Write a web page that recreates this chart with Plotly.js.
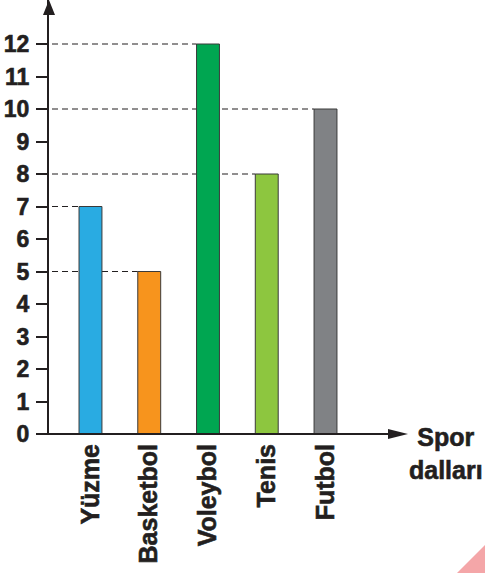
<!DOCTYPE html>
<html>
<head>
<meta charset="utf-8">
<script src="https://cdn.plot.ly/plotly-3.0.1.min.js"></script>
<style>
html,body{margin:0;padding:0;background:#fff;}
#chart{width:485px;height:573px;}
#chart .xtick text, #chart .ytick text, #chart .annotation-text{stroke:#231f20;stroke-width:0.6px;}
</style>
</head>
<body>
<div id="chart"></div>
<script>
const categories = ["Yüzme", "Basketbol", "Voleybol", "Tenis", "Futbol"];
const values = [7, 5, 12, 8, 10];
const colors = ["#29abe2", "#f7941d", "#00a651", "#8dc63f", "#808285"];
const yTicks = [0,1,2,3,4,5,6,7,8,9,10,11,12];
const xTitle = "Spor<br>dalları";

const W = 485, H = 573;
const mL = 49, mR = 77, mT = 0, mB = 139;
const plotW = W - mL - mR, plotH = H - mT - mB;
const xRange = [-0.706, 5.404];
const yRange = [0, 13.354];
const barWidth = 0.39;
const ink = "#231f20";
const idx = categories.map((c, i) => i);

// helpers to convert pixel positions to paper coords (decorations only)
const px = x => (x - mL) / plotW;
const py = y => (H - mB - y) / plotH;

const shapes = [];
// dashed guide lines from the y axis to the top of each bar
values.forEach((v, i) => {
  shapes.push({
    type: "line", xref: "x", yref: "y",
    x0: xRange[0] + 3 * (xRange[1] - xRange[0]) / plotW, x1: i - barWidth / 2,
    y0: v, y1: v,
    line: { color: ink, width: 1.1, dash: "6px,4px" }, layer: "below"
  });
});
// x axis line (extends left past y axis)
shapes.push({ type: "line", xref: "paper", yref: "paper", x0: px(38), x1: px(392), y0: 0, y1: 0, line: { color: ink, width: 2 } });
// x axis arrow head
shapes.push({ type: "path", xref: "paper", yref: "paper",
  path: `M ${px(408)} ${py(434)} L ${px(388)} ${py(429)} L ${px(388)} ${py(439)} Z`,
  fillcolor: ink, line: { width: 0 } });
// y axis arrow head
shapes.push({ type: "path", xref: "paper", yref: "paper",
  path: `M ${px(49)} ${py(0)} L ${px(43)} ${py(15)} L ${px(55)} ${py(15)} Z`,
  fillcolor: ink, line: { width: 0 } });
// pink corner triangle
shapes.push({ type: "path", xref: "paper", yref: "paper",
  path: `M ${px(457)} ${py(573)} L ${px(485)} ${py(573)} L ${px(485)} ${py(545)} Z`,
  fillcolor: "#f4a6a8", line: { width: 0 } });

const trace = {
  type: "bar", x: idx, y: values, width: barWidth,
  marker: { color: colors, line: { color: "#3a3a3a", width: 1 } },
  hoverinfo: "skip"
};

const layout = {
  width: W, height: H,
  margin: { l: mL, r: mR, t: mT, b: mB, pad: 0 },
  paper_bgcolor: "#fff", plot_bgcolor: "#fff",
  showlegend: false,
  font: { family: "Liberation Sans, Arial, sans-serif", color: ink },
  xaxis: {
    range: xRange, tickvals: idx, ticktext: categories, tickangle: -90,
    showgrid: false, zeroline: false, showline: false, ticks: "",
    tickfont: { size: 25, weight: "bold", color: ink },
    ticklabelstandoff: 4, fixedrange: true
  },
  yaxis: {
    range: yRange, tickvals: yTicks, ticktext: yTicks.map(String),
    showgrid: false, zeroline: false, showline: true, linecolor: ink, linewidth: 2,
    ticks: "outside", ticklen: 11, tickwidth: 2, tickcolor: ink,
    tickfont: { size: 23, weight: "bold", color: ink },
    ticklabelstandoff: 2, fixedrange: true
  },
  shapes: shapes,
  annotations: [{
    xref: "paper", yref: "paper", x: px(446), y: py(453),
    text: xTitle, showarrow: false, xanchor: "center", yanchor: "middle",
    font: { size: 25, weight: "bold", color: ink }
  }]
};

Plotly.newPlot("chart", [trace], layout, { displayModeBar: false, staticPlot: true });
</script>
</body>
</html>
